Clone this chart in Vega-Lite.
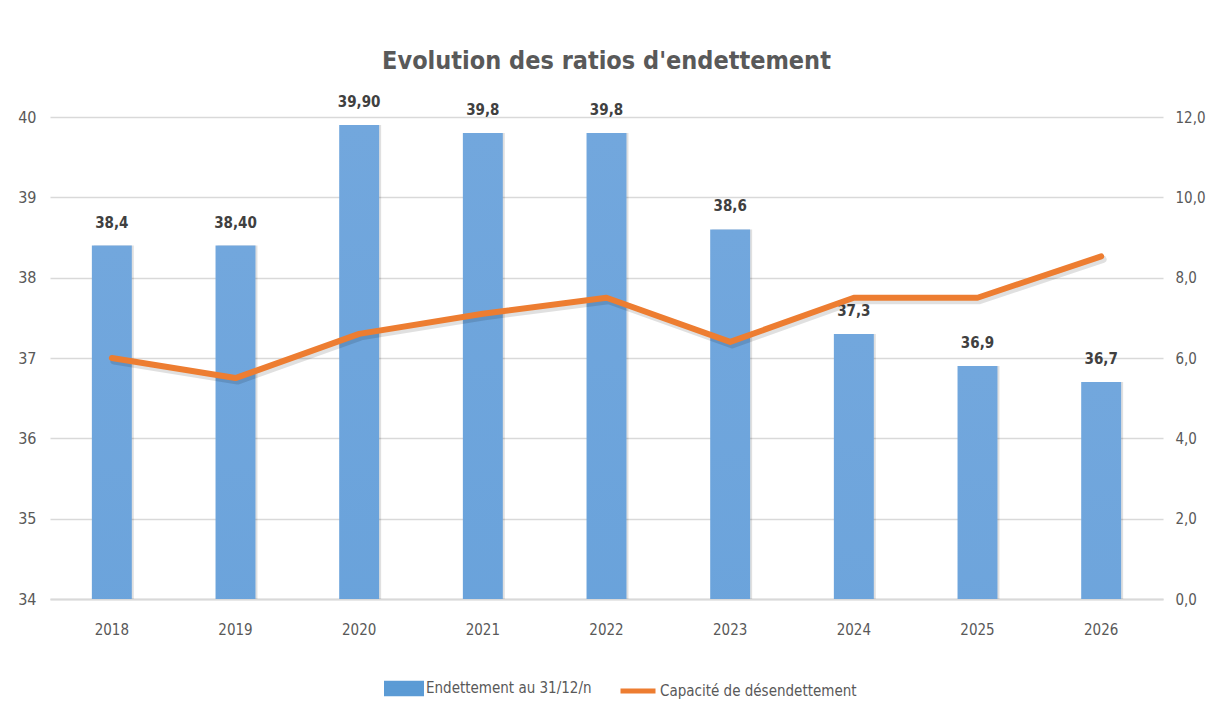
{
  "$schema": "https://vega.github.io/schema/vega-lite/v6.json",
  "width": 1113,
  "height": 482,
  "autosize": {"type": "none"},
  "padding": {"left": 50, "top": 117, "right": 43, "bottom": 114},
  "background": "white",
  "title": {
    "text": "Evolution des ratios d'endettement",
    "font": "DejaVu Sans Condensed",
    "fontSize": 25,
    "fontWeight": "bold",
    "color": "#595959",
    "anchor": "middle",
    "baseline": "alphabetic",
    "offset": 1
  },
  "data": {
    "values": [
      {"annee": "2018", "endettement": 38.4, "etiquette": "38,4", "capacite": 6.0},
      {"annee": "2019", "endettement": 38.4, "etiquette": "38,40", "capacite": 5.5},
      {"annee": "2020", "endettement": 39.9, "etiquette": "39,90", "capacite": 6.6},
      {"annee": "2021", "endettement": 39.8, "etiquette": "39,8", "capacite": 7.1},
      {"annee": "2022", "endettement": 39.8, "etiquette": "39,8", "capacite": 7.5},
      {"annee": "2023", "endettement": 38.6, "etiquette": "38,6", "capacite": 6.4},
      {"annee": "2024", "endettement": 37.3, "etiquette": "37,3", "capacite": 7.5},
      {"annee": "2025", "endettement": 36.9, "etiquette": "36,9", "capacite": 7.5},
      {"annee": "2026", "endettement": 36.7, "etiquette": "36,7", "capacite": 8.53}
    ]
  },
  "encoding": {
    "x": {
      "field": "annee",
      "type": "nominal",
      "scale": {"paddingInner": 0.677, "paddingOuter": 0.3385},
      "axis": {
        "title": null,
        "labelAngle": 0,
        "labelFont": "DejaVu Sans Condensed",
        "labelFontSize": 15,
        "labelColor": "#595959",
        "labelPadding": 23,
        "ticks": false,
        "domainColor": "#d9d9d9",
        "domainWidth": 2,
        "grid": false
      }
    }
  },
  "layer": [
    {
      "mark": {"type": "bar", "clip": true, "fill": "#000000", "opacity": 0.12, "xOffset": 2},
      "encoding": {
        "y": {
          "field": "endettement",
          "type": "quantitative",
          "scale": {"domain": [34, 40], "zero": false, "nice": false},
          "axis": {
            "title": null,
            "orient": "left",
            "values": [34, 35, 36, 37, 38, 39, 40],
            "labelFont": "DejaVu Sans Condensed",
            "labelFontSize": 16,
            "labelColor": "#595959",
            "labelPadding": 14,
            "ticks": false,
            "domain": false,
            "grid": true,
            "gridColor": "#d9d9d9",
            "gridWidth": 1.5
          }
        }
      }
    },
    {
      "mark": {
        "type": "bar",
        "clip": true,
        "fill": {
          "gradient": "linear",
          "x1": 0, "y1": 0, "x2": 0, "y2": 1,
          "stops": [
            {"offset": 0, "color": "#72a7dd"},
            {"offset": 0.5, "color": "#5698d6"},
            {"offset": 1, "color": "#3f84c9"}
          ]
        }
      },
      "encoding": {
        "y": {
          "field": "endettement",
          "type": "quantitative",
          "scale": {"domain": [34, 40], "zero": false, "nice": false},
          "axis": null
        }
      }
    },
    {
      "mark": {
        "type": "text",
        "font": "DejaVu Sans Condensed",
        "fontSize": 15,
        "fontWeight": "bold",
        "color": "#404040",
        "baseline": "alphabetic",
        "dy": -18
      },
      "encoding": {
        "y": {
          "field": "endettement",
          "type": "quantitative",
          "scale": {"domain": [34, 40], "zero": false, "nice": false},
          "axis": null
        },
        "text": {"field": "etiquette"}
      }
    },
    {
      "mark": {
        "type": "line",
        "color": "#000000",
        "opacity": 0.12,
        "strokeWidth": 7,
        "strokeCap": "round",
        "strokeJoin": "round",
        "xOffset": 2,
        "yOffset": 3
      },
      "encoding": {
        "y": {
          "field": "capacite",
          "type": "quantitative",
          "scale": {"domain": [0, 12], "nice": false},
          "axis": null
        }
      }
    },
    {
      "mark": {
        "type": "line",
        "strokeWidth": 6,
        "strokeCap": "round",
        "strokeJoin": "round"
      },
      "encoding": {
        "y": {
          "field": "capacite",
          "type": "quantitative",
          "scale": {"domain": [0, 12], "nice": false},
          "axis": {
            "title": null,
            "orient": "right",
            "values": [0, 2, 4, 6, 8, 10, 12],
            "labelExpr": "replace(format(datum.value, '.1f'), '.', ',')",
            "labelFont": "DejaVu Sans Condensed",
            "labelFontSize": 15,
            "labelColor": "#595959",
            "labelPadding": 12,
            "ticks": false,
            "domain": false,
            "grid": false
          }
        },
        "color": {
          "datum": "Capacité de désendettement",
          "type": "nominal",
          "scale": {
            "domain": ["Endettement au 31/12/n", "Capacité de désendettement"],
            "range": ["#5b9bd5", "#ed7d31"]
          },
          "legend": {
            "title": null,
            "orient": "none",
            "legendX": 334,
            "legendY": 551,
            "direction": "horizontal",
            "labelFont": "DejaVu Sans Condensed",
            "labelFontSize": 15,
            "labelColor": "#595959",
            "labelLimit": 400,
            "labelOffset": 2,
            "columnPadding": 18,
            "symbolSize": 1225,
            "symbolStrokeWidth": 5,
            "encode": {
              "symbols": {
                "update": {
                  "shape": {"signal": "datum.value === 'Endettement au 31/12/n' ? 'M-1,-0.3H1V0.3H-1Z' : 'M-1,0H1'"},
                  "fill": {"signal": "datum.value === 'Endettement au 31/12/n' ? '#5b9bd5' : 'transparent'"},
                  "stroke": {"signal": "datum.value === 'Endettement au 31/12/n' ? 'transparent' : '#ed7d31'"},
                  "strokeWidth": {"value": 5}
                }
              }
            }
          }
        }
      }
    }
  ],
  "resolve": {"scale": {"y": "independent"}},
  "config": {"view": {"stroke": null}}
}
